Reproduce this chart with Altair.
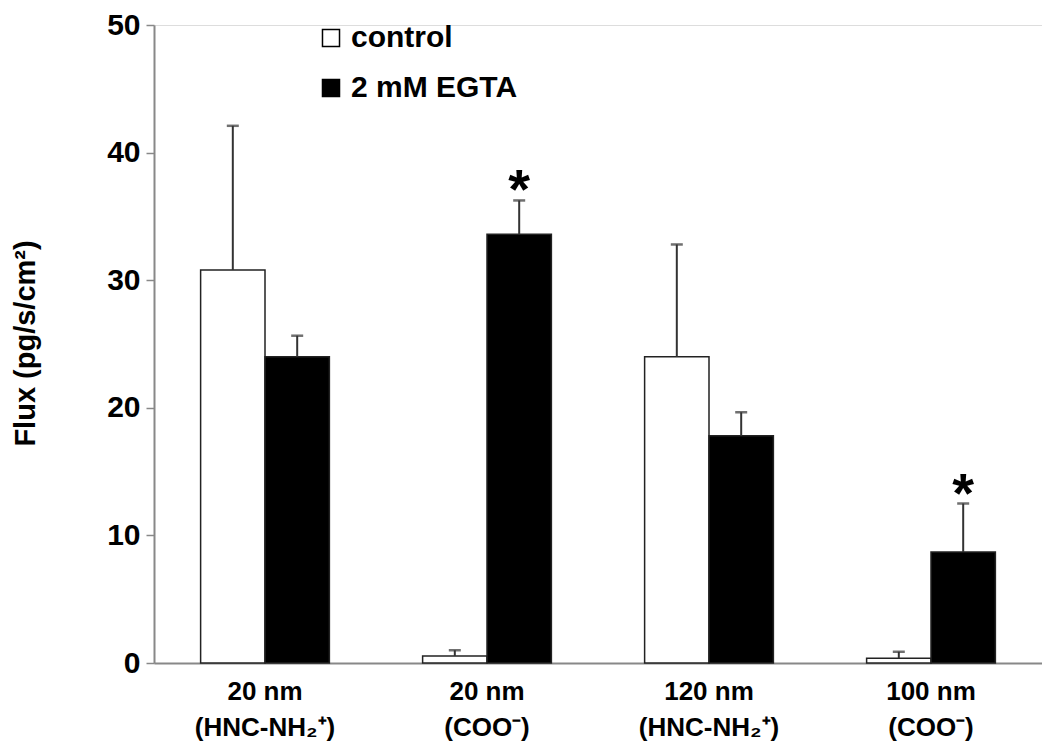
import altair as alt
import pandas as pd

categories = ["20 nm|(HNC-NH₂⁺)", "20 nm|(COO⁻)", "120 nm|(HNC-NH₂⁺)", "100 nm|(COO⁻)"]
conditions = ["control", "2 mM EGTA"]

control_mean = [30.8, 0.55, 24.0, 0.37]
control_err = [11.3, 0.45, 8.8, 0.51]
egta_mean = [24.0, 33.6, 17.8, 8.7]
egta_err = [1.65, 2.65, 1.85, 3.8]
egta_star = ["", "*", "", "*"]

rows = []
for i, c in enumerate(categories):
    rows.append({"cat": c, "cond": "control", "mean": control_mean[i],
                 "upper": control_mean[i] + control_err[i], "star": ""})
    rows.append({"cat": c, "cond": "2 mM EGTA", "mean": egta_mean[i],
                 "upper": egta_mean[i] + egta_err[i], "star": egta_star[i]})
df = pd.DataFrame(rows)

FONT = "Liberation Sans"

base = alt.Chart(df).encode(
    x=alt.X("cat:N", sort=categories,
            scale=alt.Scale(paddingInner=0.42, paddingOuter=0.21),
            axis=alt.Axis(title=None, labelAngle=0, ticks=False, domainColor="#888",
                          domainWidth=2, labelFont=FONT, labelFontSize=26,
                          labelFontWeight="bold", labelColor="black", labelPadding=15,
                          labelLineHeight=36, labelLimit=0,
                          labelExpr="split(datum.label, '|')")),
    xOffset=alt.XOffset("cond:N", sort=conditions),
)

yscale = alt.Scale(domain=[0, 50], nice=False)

bars = base.mark_bar(stroke="#222", strokeWidth=1.5).encode(
    y=alt.Y("mean:Q", scale=yscale,
            axis=alt.Axis(values=[0, 10, 20, 30, 40, 50], grid=False, domainColor="#888",
                          domainWidth=2, tickColor="#888", tickSize=8, tickWidth=1.5,
                          labelFont=FONT, labelFontSize=30, labelFontWeight="bold",
                          labelColor="black", labelPadding=6,
                          title="Flux (pg/s/cm²)", titleFont=FONT, titleFontSize=29,
                          titleFontWeight="bold", titleColor="black",
                          titleX=-129, titleY=318, titleAlign="center",
                          titleBaseline="middle", titleAngle=270)),
    fill=alt.Fill("cond:N", sort=conditions,
                  scale=alt.Scale(domain=conditions, range=["white", "black"]),
                  legend=alt.Legend(title=None, orient="none", legendX=162, legendY=-2,
                                    symbolType="square", symbolSize=290,
                                    symbolStrokeColor="black", symbolStrokeWidth=1.5,
                                    labelFont=FONT, labelFontSize=30,
                                    labelFontWeight="bold", labelColor="black",
                                    labelOffset=5, labelLimit=0, rowPadding=20,
                                    padding=0)),
)

rules = base.mark_rule(color="#333", strokeWidth=2).encode(
    y=alt.Y("mean:Q", scale=yscale), y2="upper:Q"
)

caps = base.mark_tick(color="#333", thickness=2.5, size=12, orient="horizontal").encode(
    y=alt.Y("upper:Q", scale=yscale)
)

stars = base.mark_text(font=FONT, fontSize=56, fontWeight="bold", baseline="alphabetic",
                       dy=8, color="black").encode(
    y=alt.Y("upper:Q", scale=yscale), text="star:N"
)

chart = alt.layer(bars, rules, caps, stars).properties(
    width=888, height=638,
    autosize=alt.AutoSizeParams(type="none"),
    padding={"left": 146, "top": 17, "right": 0, "bottom": 80},
).configure_view(stroke=None).configure(background="white")

chart.save("out.html", embed_options={"renderer": "svg", "actions": False})
